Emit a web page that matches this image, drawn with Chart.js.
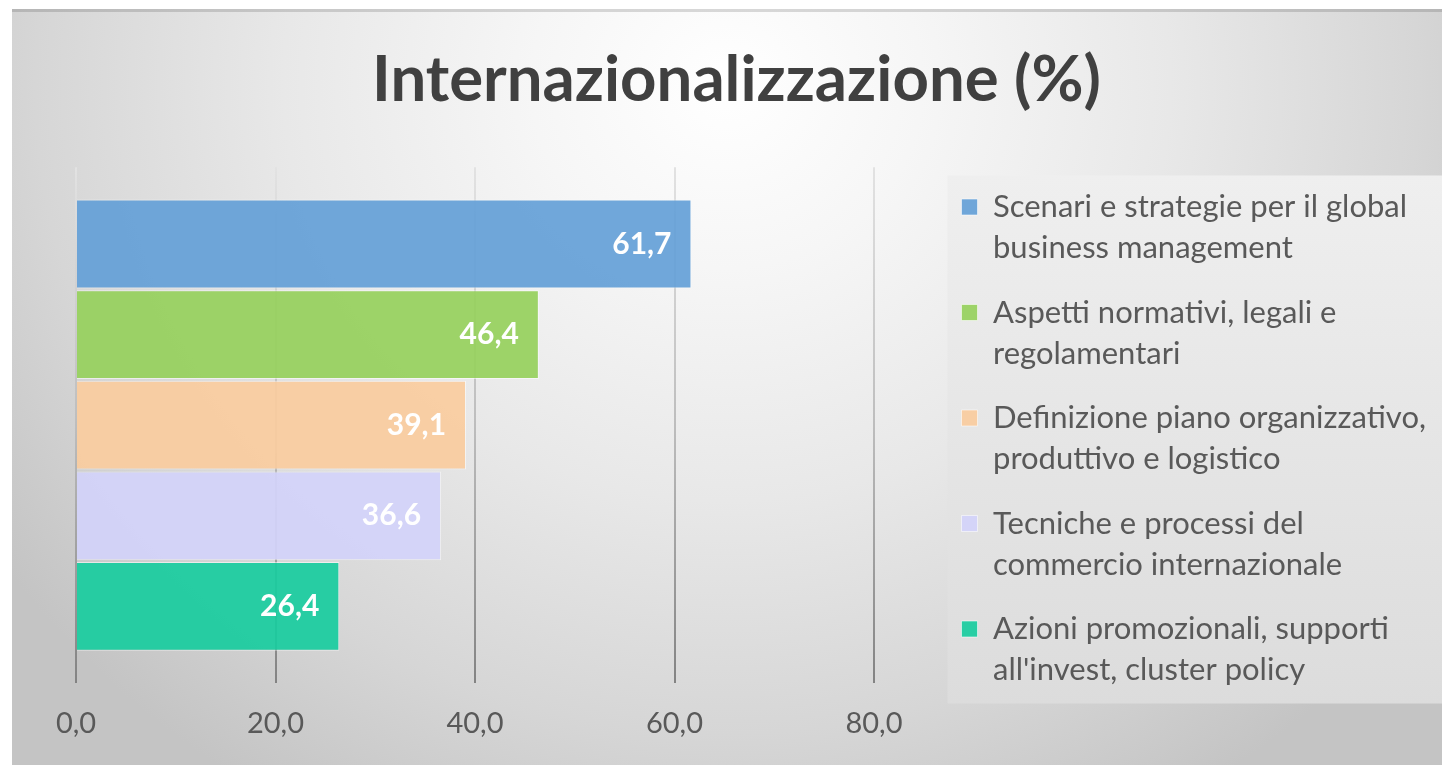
<!DOCTYPE html>
<html>
<head>
<meta charset="utf-8">
<script src="https://cdn.jsdelivr.net/npm/chart.js@4"></script>
<style>
    body {
        margin: 0;
        background: #ffffff;
        overflow: hidden;
    }
    #card {
        position: absolute;
        left: 12px;
        top: 9px;
        width: 1430px;
        height: 756px;
        background: radial-gradient(ellipse 62% 110% at 50% 10%, #ffffff 0%, #f6f6f6 22%, #e8e8e8 50%, #d6d6d6 78%, #c4c4c4 100%);
        box-shadow: inset 0 3px 0 rgba(0, 0, 0, 0.14);
    }
</style>
</head>
<body>
<div id="card">
    <canvas id="myBarChart" width="1430" height="756"></canvas>
</div>
<script>
// -------------------------------------------------------------------------- Document variables

const titleText = 'Internazionalizzazione (%)'

const categories = [
    ['Scenari e strategie per il global', 'business management'],
    ['Aspetti normativi, legali e', 'regolamentari'],
    ['Definizione piano organizzativo,', 'produttivo e logistico'],
    ['Tecniche e processi del', 'commercio internazionale'],
    ['Azioni promozionali, supporti', "all'invest, cluster policy"]
]

const values = [61.7, 46.4, 39.1, 36.6, 26.4]

const colors = [
    'rgba(100, 160, 215, 0.92)',
    'rgba(150, 208, 92, 0.92)',
    'rgba(250, 204, 158, 0.92)',
    'rgba(210, 210, 250, 0.92)',
    'rgba(24, 204, 158, 0.92)'
]

const tickValues = [0, 20, 40, 60, 80]

let textGrey = '#595959'
let titleGrey = '#404040'

Chart.defaults.font.family = 'Lato'
Chart.defaults.color = textGrey

const fmt = v => v.toFixed(1).replace('.', ',')

// -------------------------------------------------------------------------- Plugins

// grey panel behind the legend
const legendPanel = {
    id: 'legendPanel',
    beforeDraw(chart) {
        const legend = chart.legend
        const boxes = legend.legendHitBoxes
        if (!boxes || !boxes.length) return
        const last = boxes[boxes.length - 1]
        const left = boxes[0].left - 14
        const top = boxes[0].top - 16
        const bottom = last.top + last.height + 8
        const ctx = chart.ctx
        const g = ctx.createLinearGradient(0, top, 0, bottom)
        g.addColorStop(0, '#efefef')
        g.addColorStop(1, '#dcdcdc')
        ctx.save()
        ctx.fillStyle = g
        ctx.fillRect(left, top, chart.width - left, bottom - top)
        ctx.restore()
    }
}

// white value labels at the end of the bars
const valueLabels = {
    id: 'valueLabels',
    afterDatasetsDraw(chart) {
        const ctx = chart.ctx
        ctx.save()
        ctx.font = 'bold 30px Lato'
        ctx.fillStyle = '#ffffff'
        ctx.textAlign = 'right'
        ctx.textBaseline = 'middle'
        chart.data.datasets.forEach((ds, i) => {
            chart.getDatasetMeta(i).data.forEach((bar, j) => {
                ctx.fillText(fmt(ds.data[j]), bar.x - 20, bar.y)
            })
        })
        ctx.restore()
    }
}

// -------------------------------------------------------------------------- Bar Chart Config

const dataBarChart = {
    labels: [''],
    datasets: categories.map((label, i) => ({
        label: label,
        data: [values[i]],
        backgroundColor: colors[i],
        borderColor: 'rgba(255, 255, 255, 0.55)',
        borderWidth: 1,
        barPercentage: 0.98,
        categoryPercentage: 0.878
    }))
}

const gridGradient = (context) => {
    const chart = context.chart
    const area = chart.chartArea
    if (!area) return '#999999'
    const g = chart.ctx.createLinearGradient(0, area.top, 0, area.bottom)
    g.addColorStop(0, '#e2e2e2')
    g.addColorStop(0.5, '#bdbdbd')
    g.addColorStop(1, '#838383')
    return g
}

const configBarChart = {
    type: 'bar',
    data: dataBarChart,
    options: {
        indexAxis: 'y',
        responsive: false,
        animation: false,
        layout: {
            padding: { left: 25, right: 6, top: 0, bottom: 1 }
        },
        plugins: {
            title: {
                display: true,
                text: titleText,
                color: titleGrey,
                font: { size: 63.5, weight: 'bold', lineHeight: 1.2 },
                padding: { top: 33, bottom: 49 }
            },
            legend: {
                position: 'right',
                align: 'start',
                maxWidth: 560,
                title: {
                    display: true,
                    text: '',
                    font: { size: 10, lineHeight: 1 },
                    padding: { top: 149, bottom: 0 }
                },
                labels: {
                    color: textGrey,
                    font: { size: 31, lineHeight: 41 / 31 },
                    boxWidth: 16,
                    boxHeight: 16,
                    padding: 23.5
                }
            },
            tooltip: { enabled: false }
        },
        scales: {
            x: {
                min: 0,
                max: 80,
                afterBuildTicks: axis => {
                    axis.ticks = tickValues.map(v => ({ value: v }))
                },
                ticks: {
                    callback: v => fmt(v),
                    font: { size: 29 },
                    color: textGrey,
                    padding: 23
                },
                grid: {
                    color: gridGradient,
                    lineWidth: 2,
                    drawTicks: false
                },
                border: { display: false }
            },
            y: {
                ticks: { display: false },
                grid: { display: false },
                border: { display: false },
                afterFit: axis => { axis.width = 39 }
            },
            y2: {
                type: 'linear',
                position: 'right',
                ticks: { display: false },
                grid: { display: false },
                border: { display: false },
                afterFit: axis => { axis.width = 64 }
            }
        }
    },
    plugins: [legendPanel, valueLabels]
}

// -------------------------------------------------------------------------- Render Chart
let myBarChart = new Chart(
    document.getElementById('myBarChart'),
    configBarChart
)
</script>
</body>
</html>
